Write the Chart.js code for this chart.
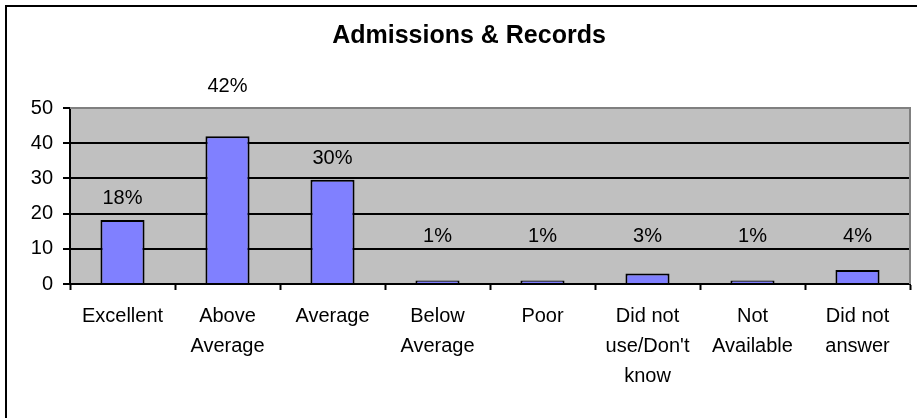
<!DOCTYPE html>
<html>
<head>
<meta charset="utf-8">
<script src="https://cdn.jsdelivr.net/npm/chart.js@4"></script>
<style>
  html, body { margin: 0; padding: 0; background: #fff; }
  #wrap { width: 917px; height: 418px; }
</style>
</head>
<body>
<div id="wrap"><canvas id="myChart" width="917" height="418"></canvas></div>
<script>
const categories = [
    ['Excellent'],
    ['Above', 'Average'],
    ['Average'],
    ['Below', 'Average'],
    ['Poor'],
    ['Did not', 'use/Don\'t', 'know'],
    ['Not', 'Available'],
    ['Did not', 'answer']
];
const percents = [18.2, 42, 29.6, 1, 1, 3, 1, 4];
const yTicks = [0, 10, 20, 30, 40, 50];

const fontFamily = '"Liberation Sans", Arial, sans-serif';

// gray plot background, outer frame on top/left
const plotBg = {
    id: 'plotBg',
    beforeDraw(chart) {
        const ctx = chart.ctx;
        const a = chart.chartArea;
        ctx.save();
        ctx.fillStyle = '#fff';
        ctx.fillRect(0, 0, chart.width, chart.height);
        ctx.fillStyle = '#C0C0C0';
        ctx.fillRect(a.left, a.top, a.right - a.left, a.bottom - a.top);
        ctx.fillStyle = '#000';
        ctx.fillRect(5, 5, chart.width - 5, 2);
        ctx.fillRect(5, 5, 2, chart.height - 5);
        ctx.restore();
    },
    afterDatasetsDraw(chart) {
        const ctx = chart.ctx;
        const a = chart.chartArea;
        ctx.save();
        ctx.strokeStyle = '#808080';
        ctx.lineWidth = 2;
        ctx.beginPath();
        ctx.moveTo(a.left, a.top);
        ctx.lineTo(a.right, a.top);
        ctx.lineTo(a.right, a.bottom);
        ctx.stroke();
        ctx.restore();
    }
};

// percent labels over the bars
const barLabels = {
    id: 'barLabels',
    afterDatasetsDraw(chart) {
        const ctx = chart.ctx;
        const a = chart.chartArea;
        const yScale = chart.scales.y;
        const floor = yScale.getPixelForValue(13.5);
        ctx.save();
        ctx.font = '20px ' + fontFamily;
        ctx.fillStyle = '#000';
        ctx.textAlign = 'center';
        ctx.textBaseline = 'middle';
        chart.getDatasetMeta(0).data.forEach((bar, i) => {
            let y = Math.min(bar.y - 21, floor);
            if (y < a.top + 12) y = a.top - 22;
            ctx.fillText(Math.round(percents[i]) + '%', bar.x, y);
        });
        ctx.restore();
    }
};

const data = {
    labels: categories,
    datasets: [{
        data: percents,
        backgroundColor: '#8080FF',
        borderColor: '#000',
        borderWidth: 2,
        barPercentage: 0.42,
        categoryPercentage: 1
    }]
};

const config = {
    type: 'bar',
    data: data,
    options: {
        responsive: false,
        animation: false,
        layout: { padding: { left: 28, right: 7, top: 21, bottom: 0 } },
        plugins: {
            legend: { display: false },
            tooltip: { enabled: false },
            title: {
                display: true,
                text: 'Admissions & Records',
                color: '#000',
                font: { family: fontFamily, size: 25, weight: 'bold', lineHeight: 1.2 },
                padding: { top: 0, bottom: 57 }
            }
        },
        scales: {
            x: {
                afterFit(scale) { scale.height = 134; },
                grid: {
                    offset: true,
                    drawOnChartArea: false,
                    drawTicks: true,
                    tickLength: 6,
                    tickColor: '#000',
                    tickWidth: 2
                },
                border: { color: '#000', width: 2 },
                ticks: {
                    color: '#000',
                    padding: 11,
                    maxRotation: 0,
                    autoSkip: false,
                    font: { family: fontFamily, size: 20, lineHeight: 1.5 }
                }
            },
            y: {
                min: yTicks[0],
                max: yTicks[yTicks.length - 1],
                afterFit(scale) { scale.width = 42; },
                afterBuildTicks(scale) { scale.ticks = yTicks.map(v => ({ value: v })); },
                grid: {
                    color: ctx => (ctx.tick && ctx.tick.value === 50) ? '#808080' : '#000',
                    lineWidth: 2,
                    tickLength: 7,
                    tickColor: '#000',
                    tickWidth: 2
                },
                border: { color: '#000', width: 2 },
                ticks: {
                    color: '#000',
                    padding: 10,
                    font: { family: fontFamily, size: 20 }
                }
            }
        }
    },
    plugins: [plotBg, barLabels]
};

const myChart = new Chart(
    document.getElementById('myChart'),
    config
);
</script>
</body>
</html>
